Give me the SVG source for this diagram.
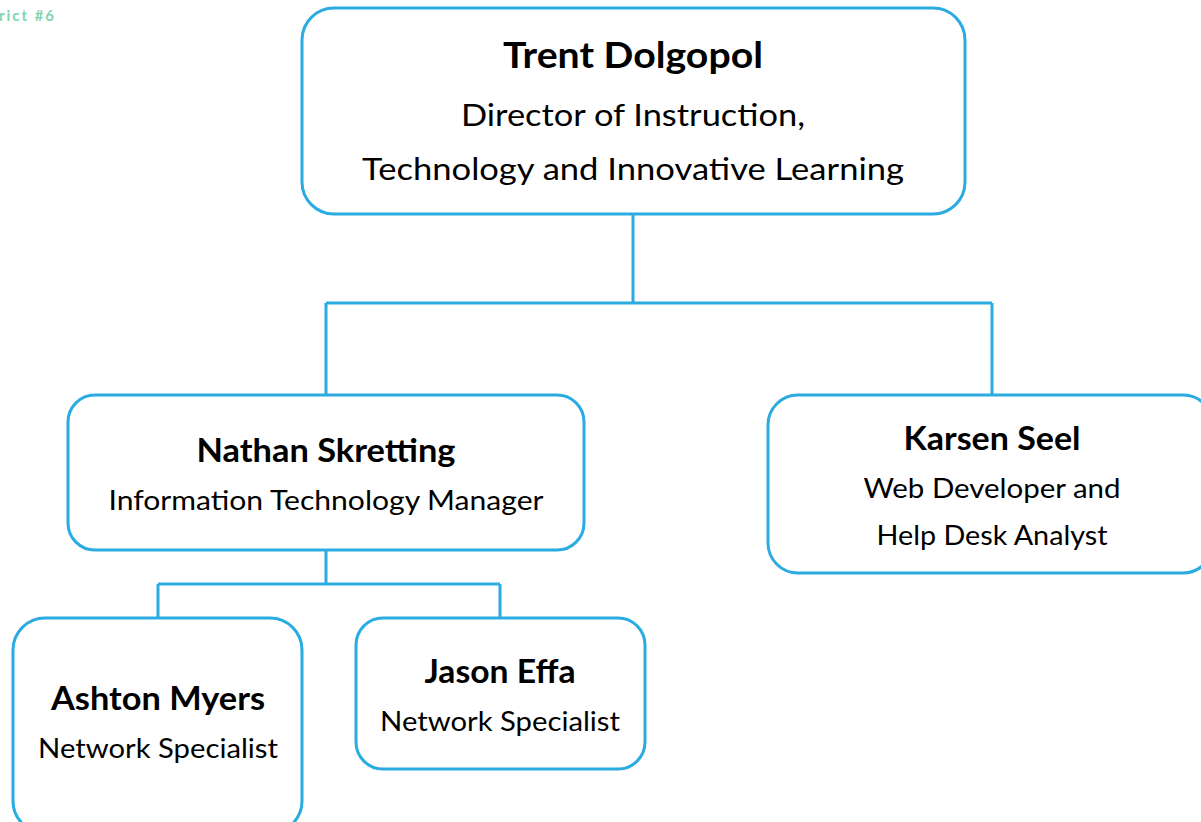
<svg xmlns="http://www.w3.org/2000/svg" width="1201" height="822" viewBox="0 0 1201 822">
<style>
.box{fill:#fff;stroke:#2aabe2;stroke-width:3}
.con{fill:none;stroke:#2aabe2;stroke-width:3}
.n{font-family:Lato,"Liberation Sans",sans-serif;font-weight:bold;fill:#000;text-anchor:middle}
.t{font-family:Lato,"Liberation Sans",sans-serif;fill:#000;text-anchor:middle}
.hdr{font-family:Lato,"Liberation Sans",sans-serif;font-weight:bold;fill:#7fd3b2;font-size:15px;letter-spacing:1px}
</style>
<rect width="1201" height="822" fill="#fff"/>
<text class="hdr" x="-1" y="21" textLength="56">rict #6</text>
<g id="connectors">
<path class="con" d="M633 214V303M326 303H992M326 303V395M992 303V395"/>
<path class="con" d="M326 550V584M158 584H500M158 584V618M500 584V618"/>
</g>
<g id="trent">
<rect class="box" x="302" y="8" width="663" height="206" rx="32"/>
<text class="n" x="633" y="68" font-size="36" textLength="260" lengthAdjust="spacingAndGlyphs">Trent Dolgopol</text>
<text class="t" x="633" y="126" font-size="31" textLength="344" lengthAdjust="spacingAndGlyphs">Director of Instruction,</text>
<text class="t" x="633" y="180" font-size="31" textLength="542" lengthAdjust="spacingAndGlyphs">Technology and Innovative Learning</text>
</g>
<g id="nathan">
<rect class="box" x="68" y="395" width="516" height="155" rx="27"/>
<text class="n" x="326" y="462" font-size="32" textLength="259" lengthAdjust="spacingAndGlyphs">Nathan Skretting</text>
<text class="t" x="326" y="510" font-size="27" textLength="435" lengthAdjust="spacingAndGlyphs">Information Technology Manager</text>
</g>
<g id="karsen">
<rect class="box" x="768" y="395" width="445" height="178" rx="30"/>
<text class="n" x="992" y="450" font-size="32" textLength="177" lengthAdjust="spacingAndGlyphs">Karsen Seel</text>
<text class="t" x="992" y="498" font-size="27" textLength="257" lengthAdjust="spacingAndGlyphs">Web Developer and</text>
<text class="t" x="992" y="545" font-size="27" textLength="231" lengthAdjust="spacingAndGlyphs">Help Desk Analyst</text>
</g>
<g id="ashton">
<rect class="box" x="13" y="618" width="289" height="215" rx="32"/>
<text class="n" x="158" y="710" font-size="32" textLength="214" lengthAdjust="spacingAndGlyphs">Ashton Myers</text>
<text class="t" x="158" y="758" font-size="27" textLength="240" lengthAdjust="spacingAndGlyphs">Network Specialist</text>
</g>
<g id="jason">
<rect class="box" x="356" y="618" width="289" height="151" rx="27"/>
<text class="n" x="500" y="683" font-size="32" textLength="151" lengthAdjust="spacingAndGlyphs">Jason Effa</text>
<text class="t" x="500" y="731" font-size="27" textLength="240" lengthAdjust="spacingAndGlyphs">Network Specialist</text>
</g>
</svg>
